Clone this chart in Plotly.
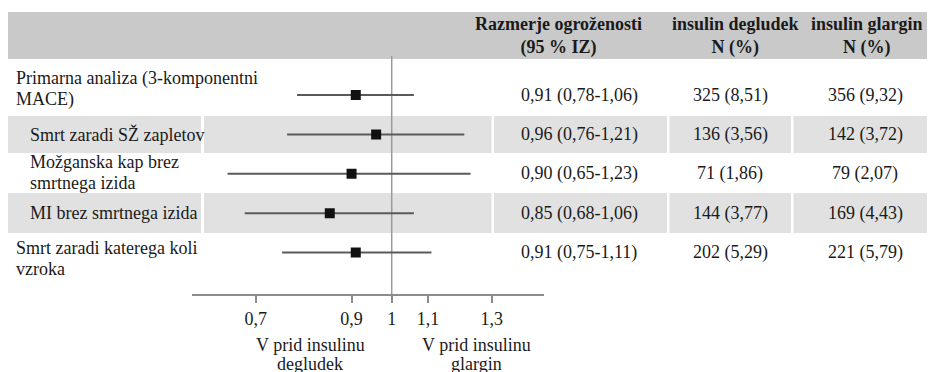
import math
import plotly.graph_objects as go

# ---------------- data ----------------
outcomes = [
    "Primarna analiza (3-komponentni<br>MACE)",
    "Smrt zaradi SŽ zapletov",
    "Možganska kap brez<br>smrtnega izida",
    "MI brez smrtnega izida",
    "Smrt zaradi katerega koli<br>vzroka",
]
hr = [0.91, 0.96, 0.90, 0.85, 0.91]
ci_low = [0.78, 0.76, 0.65, 0.68, 0.75]
ci_high = [1.06, 1.21, 1.23, 1.06, 1.11]
hr_text = ["0,91 (0,78-1,06)", "0,96 (0,76-1,21)", "0,90 (0,65-1,23)",
           "0,85 (0,68-1,06)", "0,91 (0,75-1,11)"]
degludek_n = ["325 (8,51)", "136 (3,56)", "71 (1,86)", "144 (3,77)", "202 (5,29)"]
glargin_n = ["356 (9,32)", "142 (3,72)", "79 (2,07)", "169 (4,43)", "221 (5,79)"]
indented = [False, True, True, True, False]
tick_vals = [0.7, 0.9, 1, 1.1, 1.3]
tick_text = ["0,7", "0,9", "1", "1,1", "1,3"]
headers = ["Razmerje ogroženosti<br>(95 % IZ)",
           "insulin degludek<br>N (%)",
           "insulin glargin<br>N (%)"]
favour_left = ["V prid insulinu", "degludek"]
favour_right = ["V prid insulinu", "glargin"]

# ---------------- layout helpers ----------------
OFF = 8                      # page body margin
W, H = 935 - OFF, 372 - OFF
FONT = "Liberation Serif, Times New Roman, serif"
TXT = "#1a1a1a"


def px(x):
    return (x - OFF) / W


def py(y):
    return 1 - (y - OFF) / H


ROW0, ROWSTEP = 95.0, 39.375
AXIS_Y = 294.0
rows = list(range(len(outcomes)))

fig = go.Figure()

# CI lines
xs, ys = [], []
for i in rows:
    xs += [ci_low[i], ci_high[i], None]
    ys += [i, i, None]
fig.add_trace(go.Scatter(x=xs, y=ys, mode="lines",
                         line=dict(color="#5a5a5a", width=2),
                         hoverinfo="skip", showlegend=False))
# point estimates
fig.add_trace(go.Scatter(x=hr, y=rows, mode="markers",
                         marker=dict(symbol="square", size=10, color="#111111"),
                         showlegend=False))

shapes = []
# header band
shapes.append(dict(type="rect", xref="paper", yref="paper",
                   x0=px(8), x1=px(935), y0=py(59), y1=py(12),
                   fillcolor="#c9c9c9", line=dict(width=0), layer="below"))
# striped rows (2nd and 4th)
cells = [(8, 201), (204, 491.5), (494, 667), (669.5, 791), (793.5, 935)]
band_y = {1: (116, 153), 3: (193, 233)}
for r, (ya, yb) in band_y.items():
    for (xa, xb) in cells:
        shapes.append(dict(type="rect", xref="paper", yref="paper",
                           x0=px(xa), x1=px(xb), y0=py(yb), y1=py(ya),
                           fillcolor="#e1e1e1", line=dict(width=0), layer="below"))
# reference line at HR = 1
shapes.append(dict(type="line", xref="x", yref="paper", x0=1, x1=1,
                   y0=py(301), y1=py(56),
                   line=dict(color="#9a9a9a", width=1.5), layer="below"))

ann = []


def text(x, y, s, bold=False, xanchor="center"):
    ann.append(dict(x=px(x), y=py(y), xref="paper", yref="paper",
                    text=("<b>" + s.replace("<br>", "</b><br><b>") + "</b>") if bold else s,
                    showarrow=False, xanchor=xanchor, yanchor="middle",
                    font=dict(family=FONT, size=18, color=TXT)))


# headers
for (cx, h) in zip([558, 735, 867], headers):
    text(cx, 36, h, bold=True)

label_offset = [-6, 0, -1, 0, 5.5]
LINE = 21
for i in rows:
    cy = ROW0 + ROWSTEP * i
    parts = outcomes[i].split("<br>")
    n = len(parts)
    for k, p in enumerate(parts):
        yy = cy + label_offset[i] + (k - (n - 1) / 2) * LINE
        text(28 if indented[i] else 14, yy, p, xanchor="left")
    text(579, cy, hr_text[i])
    text(730, cy, degludek_n[i])
    text(865, cy, glargin_n[i])

text(310, 345, favour_left[0])
text(310, 364, favour_left[1])
text(476.5, 345, favour_right[0])
text(476.5, 364, favour_right[1])

x_lo, x_hi = 0.5916, 1.4926
fig.update_layout(
    width=W, height=H,
    margin=dict(l=0, r=0, t=0, b=0),
    paper_bgcolor="white", plot_bgcolor="rgba(0,0,0,0)",
    showlegend=False,
    shapes=shapes, annotations=ann,
    xaxis=dict(type="log", domain=[px(191.7), px(544.3)],
               range=[math.log10(x_lo), math.log10(x_hi)],
               showline=True, linecolor="#8c8c8c", linewidth=2,
               ticks="outside", ticklen=7, tickwidth=1.5, tickcolor="#8c8c8c",
               tickvals=tick_vals, ticktext=tick_text,
               tickfont=dict(family=FONT, size=18, color=TXT),
               showgrid=False, zeroline=False, fixedrange=True),
    yaxis=dict(domain=[py(AXIS_Y), 1],
               range=[(AXIS_Y - ROW0) / ROWSTEP, (OFF - ROW0) / ROWSTEP],
               visible=False, showgrid=False, zeroline=False, fixedrange=True),
)

fig.write_html("out.html", config=dict(displayModeBar=False))
